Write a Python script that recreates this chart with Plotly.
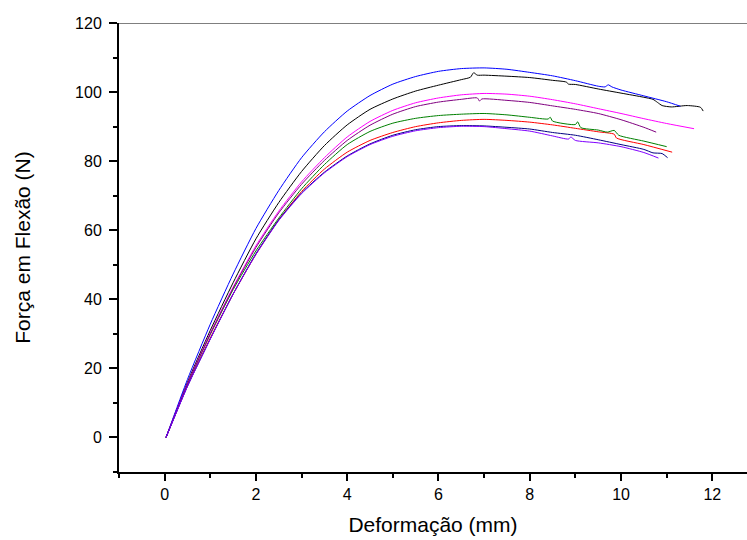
import plotly.graph_objects as go

# ensaios de flexao - forca (N) x deformacao (mm)
blue_x = [0.03, 0.5, 1.0, 1.5, 2.0, 2.5, 3.0, 3.5, 4.0, 4.5, 5.0, 5.5, 6.0, 6.5, 7.0, 7.5, 8.0, 8.5, 9.0, 9.5, 9.65, 9.72, 9.8, 10.0, 10.5, 11.0, 11.3]
blue_y = [0, 16.8, 32.8, 47.3, 60.5, 71.5, 81, 88.5, 94.5, 99, 102.3, 104.5, 106, 106.8, 107, 106.6, 105.7, 104.7, 103.3, 101.7, 101.5, 102.1, 101.5, 100.6, 98.9, 97.2, 95.9]

black_x = [0.03, 0.5, 1.0, 1.5, 2.0, 2.5, 3.0, 3.5, 4.0, 4.5, 5.0, 5.5, 6.0, 6.5, 6.7, 6.77, 6.85, 7.0, 7.5, 8.0, 8.5, 8.8, 8.85, 9.0, 9.5, 10.0, 10.5, 10.7, 10.8, 10.9, 11.1, 11.45, 11.74, 11.8]
black_y = [0, 16, 31, 44.8, 57.5, 68, 77, 84.5, 90.5, 95, 98, 100.3, 102, 103.6, 104.3, 105.6, 104.9, 104.9, 104.6, 104.2, 103.4, 102.9, 102.3, 102.2, 100.9, 99.7, 98.5, 97.9, 97, 96.1, 95.7, 96.1, 95.6, 94.5]

magenta_x = [0.03, 0.5, 1.0, 1.5, 2.0, 2.5, 3.0, 3.5, 4.0, 4.5, 5.0, 5.5, 6.0, 6.5, 7.0, 7.5, 8.0, 8.5, 9.0, 9.5, 10.0, 10.5, 11.0, 11.6]
magenta_y = [0, 15.6, 30.2, 43.5, 55.5, 65.5, 74, 81, 87, 91.5, 94.7, 96.9, 98.3, 99.2, 99.6, 99.4, 98.8, 97.8, 96.6, 95.2, 93.8, 92.3, 90.9, 89.4]

purple_x = [0.03, 0.5, 1.0, 1.5, 2.0, 2.5, 3.0, 3.5, 4.0, 4.5, 5.0, 5.5, 6.0, 6.5, 6.85, 6.9, 6.95, 7.5, 8.0, 8.5, 9.0, 9.5, 10.0, 10.5, 10.77]
purple_y = [0, 15.5, 30, 43.2, 55, 65, 73.3, 80.2, 86, 90.4, 93.6, 95.8, 97.1, 97.9, 98.3, 97.4, 98, 97.6, 97, 96, 95, 93.8, 92, 89.8, 88.4]

green_x = [0.03, 0.5, 1.0, 1.5, 2.0, 2.5, 3.0, 3.5, 4.0, 4.5, 5.0, 5.5, 6.0, 6.5, 7.0, 7.5, 8.0, 8.4, 8.45, 8.5, 9.0, 9.05, 9.12, 9.5, 9.7, 9.85, 9.95, 10.5, 11.0]
green_y = [0, 15.5, 29.8, 42.8, 54, 63.5, 72, 79, 84.8, 88.6, 91, 92.4, 93.2, 93.6, 93.8, 93.4, 92.7, 92.2, 92.7, 91.6, 90.6, 91.4, 89.7, 89, 88.4, 88.9, 87.5, 85.8, 84.2]

red_x = [0.03, 0.5, 1.0, 1.5, 2.0, 2.5, 3.0, 3.5, 4.0, 4.5, 5.0, 5.5, 6.0, 6.5, 7.0, 7.5, 8.0, 8.5, 9.0, 9.5, 9.85, 9.9, 10.5, 11.12]
red_y = [0, 15, 28.8, 41.5, 53, 63, 71.2, 77.7, 82.6, 86, 88.3, 90, 91.1, 91.8, 92.1, 91.8, 91.3, 90.5, 89.5, 88.5, 87.8, 86.7, 84.8, 82.6]

navy_x = [0.03, 0.5, 1.0, 1.5, 2.0, 2.5, 3.0, 3.5, 4.0, 4.5, 5.0, 5.5, 6.0, 6.5, 7.0, 7.5, 8.0, 8.5, 9.0, 9.5, 10.0, 10.5, 10.7, 10.9, 11.02]
navy_y = [0, 14.8, 28.5, 41.5, 53.2, 63, 70.8, 76.8, 81.5, 85, 87.5, 89.1, 90, 90.3, 90.2, 89.8, 89.3, 88.3, 87.5, 86.2, 84.8, 83.4, 82.4, 82.2, 81]

violet_x = [0.03, 0.5, 1.0, 1.5, 2.0, 2.5, 3.0, 3.5, 4.0, 4.5, 5.0, 5.5, 6.0, 6.5, 7.0, 7.5, 8.0, 8.5, 8.85, 8.9, 9.0, 9.5, 10.0, 10.5, 10.82]
violet_y = [0, 14.8, 28.5, 41.5, 53, 62.8, 70.6, 76.6, 81.3, 84.8, 87.2, 88.8, 89.7, 90.1, 90, 89.4, 88.7, 87.3, 86.4, 87, 86, 85.3, 84.2, 82.5, 80.9]

series = [
    (black_x, black_y, "#000000"),
    (red_x, red_y, "#FF0000"),
    (green_x, green_y, "#008000"),
    (blue_x, blue_y, "#0000FF"),
    (magenta_x, magenta_y, "#FF00FF"),
    (purple_x, purple_y, "#800080"),
    (navy_x, navy_y, "#000080"),
    (violet_x, violet_y, "#8000FF"),
]

fig = go.Figure()
for xs, ys, c in series:
    fig.add_trace(go.Scatter(x=xs, y=ys, mode="lines",
                             line=dict(color=c, width=1, shape="spline", smoothing=0.6),
                             showlegend=False))

fnt = "Liberation Sans, Arial, sans-serif"

fig.update_layout(
    width=747, height=540,
    margin=dict(l=119, r=0, t=23, b=68),
    plot_bgcolor="white", paper_bgcolor="white",
    font=dict(family=fnt, color="black"),
)

fig.update_xaxes(
    range=[-1, 12.76], tickvals=[0, 2, 4, 6, 8, 10, 12],
    automargin=False,
    showgrid=False, zeroline=False,
    showline=True, linecolor="black", linewidth=2,
    ticks="outside", ticklen=7, tickwidth=1.5, tickcolor="black",
    minor=dict(tickvals=[-1, 1, 3, 5, 7, 9, 11], ticks="outside", ticklen=4, tickwidth=1.5, tickcolor="black"),
    tickfont=dict(size=16),
    title=dict(text="Deformação (mm)", font=dict(size=21), standoff=15),
)

fig.update_yaxes(
    range=[-10, 120], tickvals=[0, 20, 40, 60, 80, 100, 120],
    automargin=False,
    showgrid=False, zeroline=False,
    showline=True, linecolor="black", linewidth=2,
    ticks="outside", ticklen=8, tickwidth=1.5, tickcolor="black",
    ticklabelstandoff=4,
    minor=dict(tickvals=[-10, 10, 30, 50, 70, 90, 110], ticks="outside", ticklen=4, tickwidth=1.5, tickcolor="black"),
    tickfont=dict(size=16),
    title=dict(text="Força em Flexão (N)", font=dict(size=21), standoff=39),
)

# linha superior do quadro
fig.add_shape(type="line", xref="paper", yref="y", x0=0, x1=1, y0=120, y1=120,
              line=dict(color="black", width=1.2))

# sem margem no body para o grafico ficar colado na janela
fig.write_html("out.html", config={"displayModeBar": False},
               post_script="document.body.style.margin='0';document.body.style.overflow='hidden';")
